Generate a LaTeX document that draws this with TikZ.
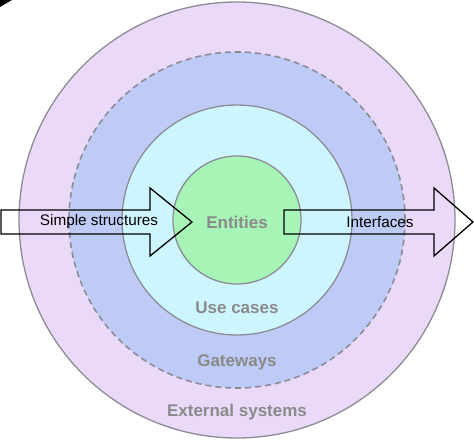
\documentclass[tikz,border=0pt]{standalone}
\usepackage{fontspec}
\setmainfont{Liberation Sans}

\definecolor{extcol}{HTML}{EAD9F9}
\definecolor{gatecol}{HTML}{BDCBF6}
\definecolor{usecol}{HTML}{CCF5FE}
\definecolor{entcol}{HTML}{A6F5B6}
\definecolor{ringline}{HTML}{8C8C94}
\definecolor{labelcol}{HTML}{8A8A8A}

\tikzset{
	ring/.style = {circle, draw=ringline, line width=1.3pt, inner sep=0pt},
	layer/.style = {text=labelcol, font=\fontsize{17}{17}\selectfont\bfseries},
	flow/.style = {draw=black, line width=1.3pt, line join=miter},
	flowtext/.style = {font=\fontsize{15.3}{15.3}\selectfont}
}

\begin{document}
\begin{tikzpicture}[x=1pt,y=-1pt]
	\useasboundingbox (0,0) rectangle (474,441);

	\node[ring, fill=extcol, minimum size=436pt] (external) at (237,220) {};
	\node[ring, fill=gatecol, minimum size=336pt, dash pattern=on 6pt off 4pt, line width=1.6pt] (gateways) at (external.center) {};
	\node[ring, fill=usecol, minimum size=230pt] (usecases) at (external.center) {};
	\node[ring, fill=entcol, minimum size=128pt] (entities) at (external.center) {};

	\node[layer] (entities-l) at (237,222) {Entities};
	\node[layer] (usecases-l) at (237,308) {Use cases};
	\node[layer] (gateways-l) at (237,362) {Gateways};
	\node[layer] (external-l) at (237,412) {External systems};

	% incoming arrow
	\draw[flow] (1,210) -- (150,210) -- (150,188) -- (192,222)
		-- (150,256) -- (150,234) -- (1,234) -- cycle;
	\node[flowtext] (simple) at (99,222) {Simple structures};

	% outgoing arrow
	\draw[flow] (284,210) -- (434,210) -- (434,188) -- (473,222)
		-- (434,256) -- (434,234) -- (284,234) -- cycle;
	\node[flowtext] (interfaces) at (380,222) {Interfaces};

	\fill[black] (0,0) -- (12,0) -- (0,7) -- cycle;
\end{tikzpicture}
\end{document}
